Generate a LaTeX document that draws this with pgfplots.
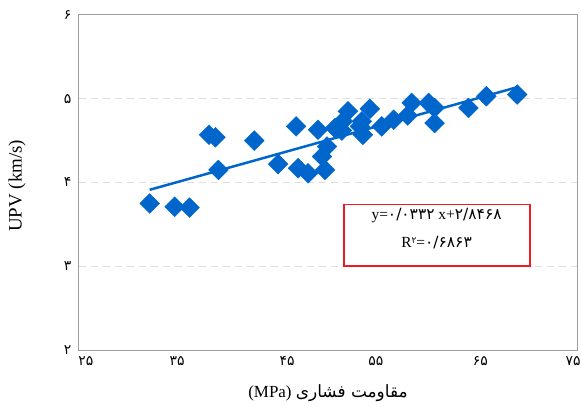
\documentclass[border=0pt]{standalone}
\usepackage{fontspec}
\setmainfont{Liberation Serif}
\newfontfamily\arabicfont[Script=Arabic]{DejaVu Sans}
\TeXXeTstate=1
\usepackage{pgfplots}
\pgfplotsset{compat=1.18}
\definecolor{ptblue}{RGB}{0,102,204}
\definecolor{boxred}{RGB}{237,28,36}

\begin{document}
\begin{tikzpicture}
\path[use as bounding box] (-79bp,-57bp) rectangle (502bp,350bp);
\begin{axis}[
  width=498bp,
  height=335bp,
  scale only axis,
  xmin=25, xmax=75,
  ymin=2, ymax=6,
  % label positions follow the reference, whose labels sit slightly off the ticks
  xtick={25.7,34.85,45.9,54.8,65.3,74.6},
  ytick={2,3,4,5,6},
  xticklabels={۲۵,۳۵,۴۵,۵۵,۶۵,۷۵},
  yticklabels={۲,۳,۴,۵,۶},
  ticklabel style={font=\fontsize{14}{16}\arabicfont},
  xticklabel style={yshift=-3bp},
  yticklabel style={xshift=-4bp},
  major tick length=0pt,
  axis line style={gray!75, line width=1bp},
  ymajorgrids,
  grid style={gray!25, line width=1bp, dash pattern=on 7bp off 5bp},
  clip=false
]
% observed points
\addplot[only marks, mark=square*, mark size=7bp,
  mark options={rotate=45, fill=ptblue, draw=ptblue}] coordinates {
  (32.1,3.75) (34.6,3.71) (36.1,3.70) (38.05,4.57) (38.7,4.54) (39.0,4.15)
  (42.6,4.50) (45.0,4.22) (46.8,4.67) (47.0,4.17) (48.0,4.11) (49.0,4.63)
  (49.7,4.15) (49.4,4.31) (49.9,4.43) (50.7,4.65) (52.0,4.85) (51.4,4.62)
  (53.2,4.67) (54.2,4.88) (53.5,4.57) (55.4,4.67) (56.6,4.75) (58.0,4.80)
  (58.4,4.95) (60.1,4.95) (60.7,4.89) (60.7,4.71) (64.1,4.89) (65.9,5.03)
  (69.0,5.05) (51.5,4.73) (53.4,4.73)
};
% linear trend
\addplot[ptblue, line width=2.5bp, no marks] coordinates {(32.1,3.913) (69.0,5.138)};

\draw[boxred, line width=1.5bp, fill=white] (axis cs:51.6,3.0) rectangle (axis cs:70.3,3.74);
\node[font=\fontsize{15.5}{18}\selectfont] at (axis cs:60.9,3.61)
  {y={\arabicfont ۰/۰۳۳۲} x+{\arabicfont ۲/۸۴۶۸}};
\node[font=\fontsize{15.5}{18}\selectfont] at (axis cs:60.9,3.28)
  {R\raisebox{0.6ex}{\fontsize{9}{10}\arabicfont ۲}={\arabicfont ۰/۶۸۶۳}};

\node[rotate=90, font=\fontsize{19}{22}\selectfont] at (axis description cs:-0.1245,0.49) {UPV (km/s)};
\node[font=\fontsize{17}{20}\selectfont] at (axis description cs:0.5,-0.128)
  {(MPa) {\arabicfont\beginR مقاومت فشاری\endR}};
\end{axis}
\end{tikzpicture}
\end{document}
